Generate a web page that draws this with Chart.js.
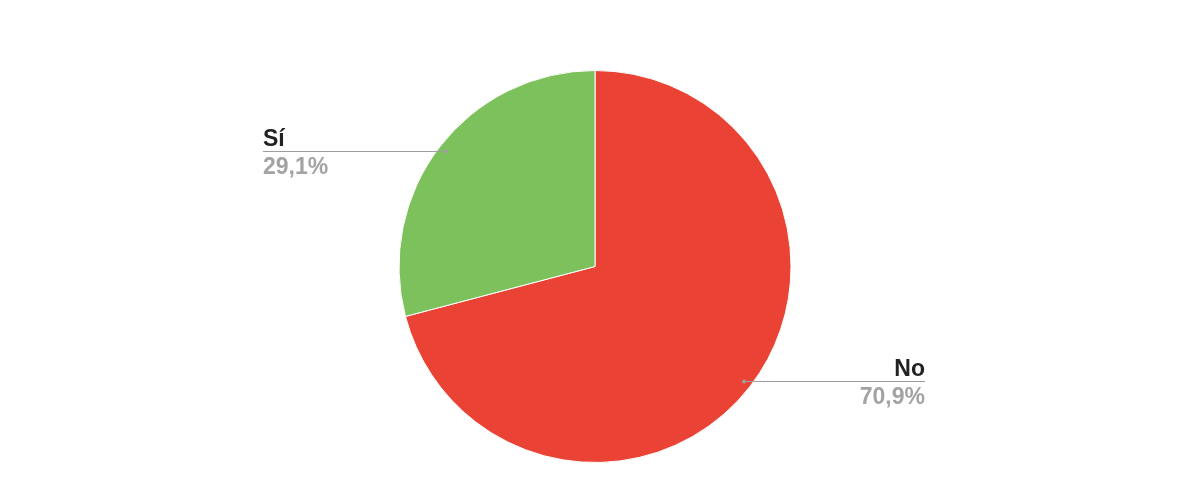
<!DOCTYPE html>
<html>
<head>
<meta charset="utf-8">
<script src="https://cdn.jsdelivr.net/npm/chart.js@4/dist/chart.umd.min.js"></script>
<style>
  html, body { margin: 0; padding: 0; background: #fff; }
  #wrap { width: 1200px; height: 500px; }
</style>
</head>
<body>
<div id="wrap"><canvas id="pieChart" width="1200" height="500"></canvas></div>
<script>
// datos del gráfico
const categories = ["No", "Sí"];
const values = [70.9, 29.1];
const pctLabels = ["70,9%", "29,1%"];
const colors = ["#ea4335", "#7cc15c"];

// etiquetas con línea guía (estilo hoja de cálculo)
const leaderLabels = {
    id: 'leaderLabels',
    afterDraw(chart) {
        const ctx = chart.ctx;
        const meta = chart.getDatasetMeta(0);
        meta.data.forEach((arc, i) => {
            const p = arc.getProps(['x', 'y', 'startAngle', 'endAngle', 'outerRadius'], true);
            const mid = (p.startAngle + p.endAngle) / 2;
            const r = p.outerRadius * 0.96;
            const dx = p.x + Math.cos(mid) * r;
            const ly = Math.floor(p.y + Math.sin(mid) * r) + 0.5;
            const right = Math.cos(mid) >= 0;
            const endX = right ? p.x + 330 : p.x - 332;

            ctx.save();
            ctx.strokeStyle = '#9e9e9e';
            ctx.lineWidth = 1;
            ctx.beginPath();
            ctx.moveTo(dx, ly);
            ctx.lineTo(endX, ly);
            ctx.stroke();
            ctx.fillStyle = '#9e9e9e';
            ctx.beginPath();
            ctx.arc(dx, ly, 2, 0, Math.PI * 2);
            ctx.fill();

            ctx.textAlign = right ? 'right' : 'left';
            ctx.font = "bold 23px 'Liberation Sans', Arial, sans-serif";
            ctx.fillStyle = '#222222';
            ctx.textBaseline = 'alphabetic';
            ctx.fillText(categories[i], endX, ly - 5.5);
            ctx.fillStyle = '#a3a3a3';
            ctx.textBaseline = 'top';
            ctx.fillText(pctLabels[i], endX, ly + 4.5);
            ctx.restore();
        });
    }
};

new Chart(document.getElementById('pieChart').getContext('2d'), {
    type: 'pie',
    data: {
        labels: categories,
        datasets: [{
            data: values,
            backgroundColor: colors,
            borderColor: '#ffffff',
            borderWidth: 1
        }]
    },
    options: {
        responsive: false,
        animation: false,
        layout: { padding: { top: 70, bottom: 37, left: 0, right: 10 } },
        plugins: {
            legend: { display: false },
            tooltip: { enabled: false }
        }
    },
    plugins: [leaderLabels]
});
</script>
</body>
</html>
